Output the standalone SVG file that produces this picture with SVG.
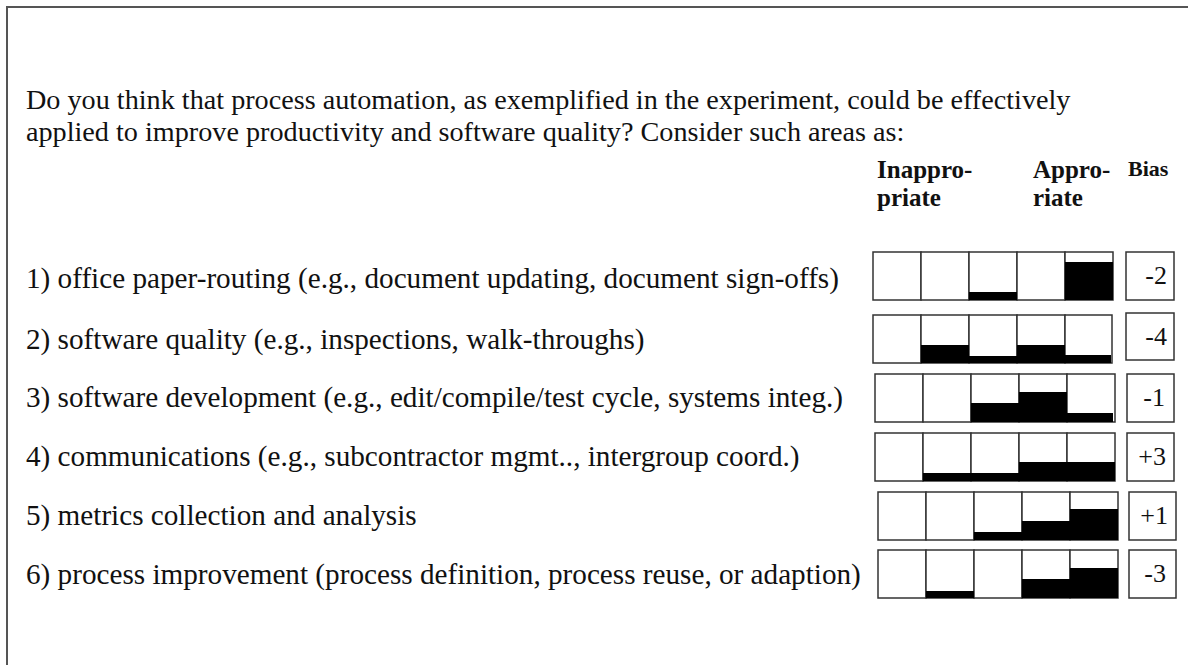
<svg xmlns="http://www.w3.org/2000/svg" width="1188" height="665" viewBox="0 0 1188 665">
  <style>
    .frame { fill: none; stroke: #555; stroke-width: 2; }
    .body { font-family: "Liberation Serif", "Times New Roman", serif; font-size: 28.2px; fill: #111; }
    .item { font-family: "Liberation Serif", "Times New Roman", serif; font-size: 29.2px; fill: #111; }
    .head { font-family: "Liberation Serif", "Times New Roman", serif; font-size: 25px; font-weight: bold; fill: #111; }
    .bias-head { font-family: "Liberation Serif", "Times New Roman", serif; font-size: 22px; font-weight: bold; fill: #111; }
    .cell { fill: #fff; stroke: #333; stroke-width: 1.5; }
    .bar { fill: #000; }
    .bias { fill: #fff; stroke: #333; stroke-width: 1.5; }
    .bias-val { font-family: "Liberation Serif", "Times New Roman", serif; font-size: 26px; fill: #111; text-anchor: end; }
  </style>

  <rect x="0" y="0" width="1188" height="665" fill="#fff"/>
  <!-- page frame: top and left edges only -->
  <path class="frame" d="M7,666 V7 H1188"/>

  <!-- question -->
  <g id="question">
    <text class="body" x="26" y="109">Do you think that process automation, as exemplified in the experiment, could be effectively</text>
    <text class="body" x="26" y="141">applied to improve productivity and software quality? Consider such areas as:</text>
  </g>

  <!-- scale headings -->
  <g id="headings">
    <text class="head" x="877" y="178">Inappro-</text>
    <text class="head" x="877" y="206">priate</text>
    <text class="head" x="1033" y="178">Appro-</text>
    <text class="head" x="1033" y="206">riate</text>
    <text class="bias-head" x="1128" y="176">Bias</text>
  </g>

  <!-- item labels -->
  <g id="items">
    <text class="item" x="26" y="288">1) office paper-routing (e.g., document updating, document sign-offs)</text>
    <text class="item" x="26" y="349">2) software quality (e.g., inspections, walk-throughs)</text>
    <text class="item" x="26" y="407">3) software development (e.g., edit/compile/test cycle, systems integ.)</text>
    <text class="item" x="26" y="466">4) communications (e.g., subcontractor mgmt.., intergroup coord.)</text>
    <text class="item" x="26" y="525">5) metrics collection and analysis</text>
    <text class="item" x="26" y="584">6) process improvement (process definition, process reuse, or adaption)</text>
  </g>

  <!-- row 1 -->
  <g id="row1">
    <rect class="cell" x="873" y="252" width="48" height="48"/>
    <rect class="cell" x="921" y="252" width="48" height="48"/>
    <rect class="cell" x="969" y="252" width="48" height="48"/>
    <rect class="cell" x="1017" y="252" width="48" height="48"/>
    <rect class="cell" x="1065" y="252" width="48" height="48"/>
    <rect class="bar" x="969" y="292" width="48" height="8"/>
    <rect class="bar" x="1065" y="262" width="48" height="38"/>
    <rect class="bias" x="1126" y="252" width="48" height="48"/>
    <text class="bias-val" x="1167" y="284">-2</text>
  </g>

  <!-- row 2 -->
  <g id="row2">
    <rect class="cell" x="873" y="315" width="48" height="48"/>
    <rect class="cell" x="921" y="315" width="48" height="48"/>
    <rect class="cell" x="969" y="315" width="48" height="48"/>
    <rect class="cell" x="1017" y="315" width="48" height="48"/>
    <rect class="cell" x="1065" y="315" width="47" height="48"/>
    <rect class="bar" x="921" y="345" width="48" height="18"/>
    <rect class="bar" x="969" y="356" width="48" height="7"/>
    <rect class="bar" x="1017" y="345" width="48" height="18"/>
    <rect class="bar" x="1065" y="355" width="46" height="8"/>
    <rect class="bias" x="1126" y="313" width="48" height="47"/>
    <text class="bias-val" x="1167" y="345">-4</text>
  </g>

  <!-- row 3 -->
  <g id="row3">
    <rect class="cell" x="875" y="374" width="48" height="48"/>
    <rect class="cell" x="923" y="374" width="48" height="48"/>
    <rect class="cell" x="971" y="374" width="48" height="48"/>
    <rect class="cell" x="1019" y="374" width="48" height="48"/>
    <rect class="cell" x="1067" y="374" width="48" height="48"/>
    <rect class="bar" x="971" y="403" width="48" height="19"/>
    <rect class="bar" x="1019" y="392" width="48" height="30"/>
    <rect class="bar" x="1067" y="413" width="46" height="9"/>
    <rect class="bias" x="1127" y="374" width="47" height="48"/>
    <text class="bias-val" x="1165" y="406">-1</text>
  </g>

  <!-- row 4 -->
  <g id="row4">
    <rect class="cell" x="875" y="433" width="48" height="48"/>
    <rect class="cell" x="923" y="433" width="48" height="48"/>
    <rect class="cell" x="971" y="433" width="48" height="48"/>
    <rect class="cell" x="1019" y="433" width="48" height="48"/>
    <rect class="cell" x="1067" y="433" width="48" height="48"/>
    <rect class="bar" x="923" y="473" width="48" height="8"/>
    <rect class="bar" x="971" y="473" width="48" height="8"/>
    <rect class="bar" x="1019" y="462" width="48" height="19"/>
    <rect class="bar" x="1067" y="462" width="48" height="19"/>
    <rect class="bias" x="1127" y="433" width="47" height="48"/>
    <text class="bias-val" x="1166" y="465">+3</text>
  </g>

  <!-- row 5 -->
  <g id="row5">
    <rect class="cell" x="878" y="492" width="48" height="48"/>
    <rect class="cell" x="926" y="492" width="48" height="48"/>
    <rect class="cell" x="974" y="492" width="48" height="48"/>
    <rect class="cell" x="1022" y="492" width="48" height="48"/>
    <rect class="cell" x="1070" y="492" width="48" height="48"/>
    <rect class="bar" x="974" y="532" width="48" height="8"/>
    <rect class="bar" x="1022" y="521" width="48" height="19"/>
    <rect class="bar" x="1070" y="509" width="48" height="31"/>
    <rect class="bias" x="1129" y="492" width="47" height="48"/>
    <text class="bias-val" x="1168" y="524">+1</text>
  </g>

  <!-- row 6 -->
  <g id="row6">
    <rect class="cell" x="878" y="550" width="48" height="48"/>
    <rect class="cell" x="926" y="550" width="48" height="48"/>
    <rect class="cell" x="974" y="550" width="48" height="48"/>
    <rect class="cell" x="1022" y="550" width="48" height="48"/>
    <rect class="cell" x="1070" y="550" width="48" height="48"/>
    <rect class="bar" x="926" y="591" width="48" height="7"/>
    <rect class="bar" x="1022" y="579" width="48" height="19"/>
    <rect class="bar" x="1070" y="568" width="48" height="30"/>
    <rect class="bias" x="1129" y="550" width="47" height="48"/>
    <text class="bias-val" x="1166" y="582">-3</text>
  </g>
</svg>
